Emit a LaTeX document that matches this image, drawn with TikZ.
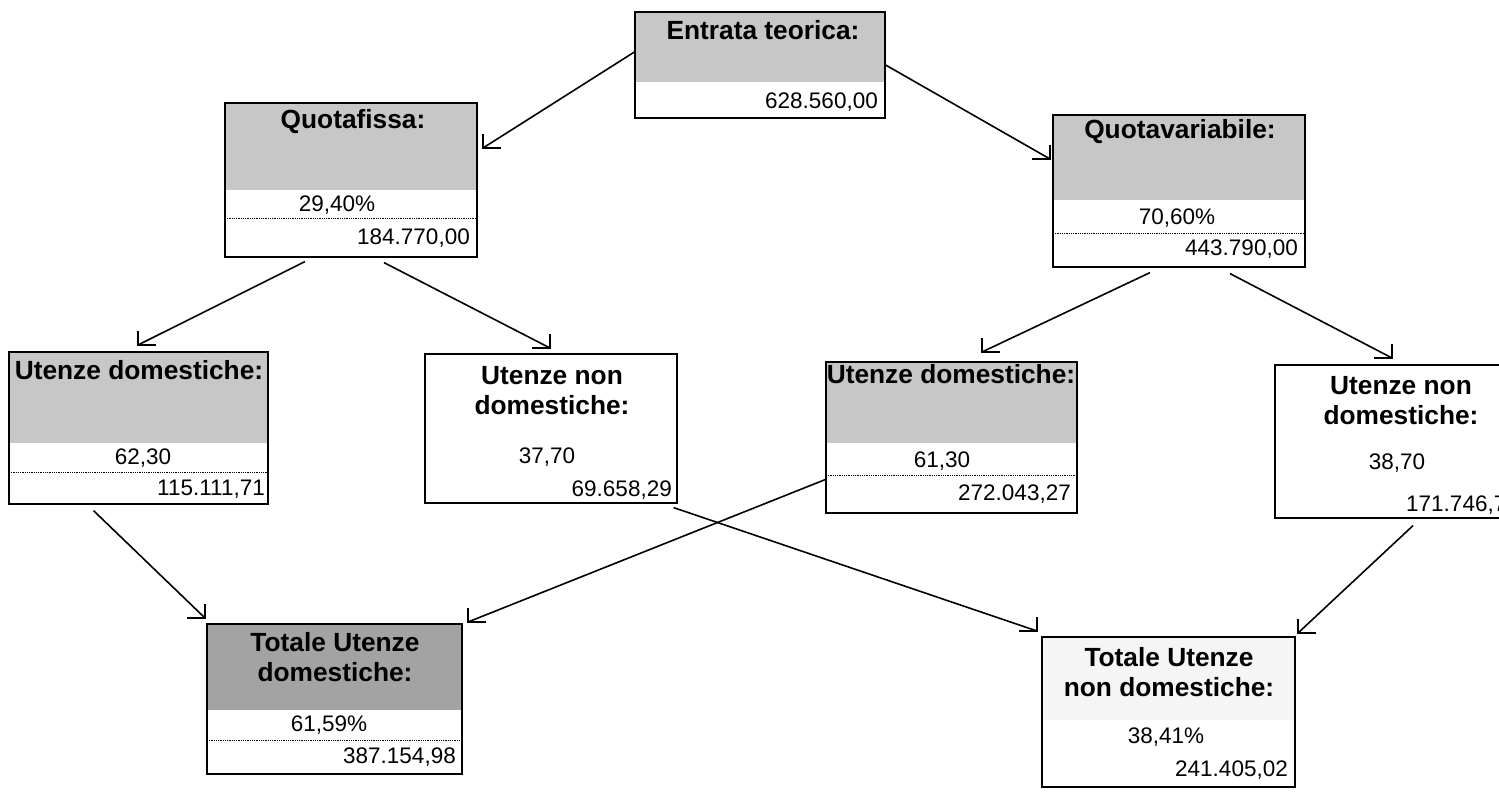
\documentclass[tikz,border=0pt]{standalone}
\usepackage{fontspec}
\setmainfont{Liberation Sans}
\usepackage{tikz}

% open corner tips at the end of the connectors
\newcommand{\barbsw}[1]{\draw[conn] ([yshift=14pt]#1) |- ([xshift=18pt]#1);}
\newcommand{\barbse}[1]{\draw[conn] ([yshift=14pt]#1) |- ([xshift=-18pt]#1);}

\begin{document}
\begin{tikzpicture}[x=1pt,y=-1pt,
    box/.style={draw=black, line width=1.2pt, inner sep=0pt},
    head/.style={fill=black!22},
    title/.style={font=\bfseries\fontsize{26.3}{30}\selectfont, inner sep=0pt, align=center},
    num/.style={font=\fontsize{22.5}{24}\selectfont, inner sep=0pt},
    rowline/.style={densely dotted, line width=0.8pt},
    conn/.style={line width=1.6pt}]
    \useasboundingbox (0,0) rectangle (1499,792);

    % grey heads
    \fill[head] (635,12) rectangle (885,82);
    \fill[head] (225,103) rectangle (477,190);
    \fill[head] (1053,115) rectangle (1305,200);
    \fill[head] (9,352) rectangle (268,443);
    \fill[head] (826,362) rectangle (1077,443);
    \fill[fill=black!36] (207,624) rectangle (462,710);
    \fill[fill=black!4] (1042,637) rectangle (1295,720);

    % boxes
    \node[box, minimum width=250pt, minimum height=106pt] (e) at (760,65) {};
    \node[box, minimum width=252pt, minimum height=154pt] (qf) at (351,180) {};
    \node[box, minimum width=252pt, minimum height=152pt] (qv) at (1179,191) {};
    \node[box, minimum width=259pt, minimum height=152pt] (ud1) at (138.5,428) {};
    \node[box, minimum width=252pt, minimum height=149pt] (un1) at (551,428.5) {};
    \node[box, minimum width=251pt, minimum height=151pt] (ud2) at (951.5,437.5) {};
    \node[box, minimum width=252pt, minimum height=153pt] (un2) at (1401,441.5) {};
    \node[box, minimum width=255pt, minimum height=150pt] (tud) at (334.5,699) {};
    \node[box, minimum width=253pt, minimum height=150pt] (tun) at (1168.5,712) {};

    % row lines
    \draw[rowline] (225,218) -- (477,218);
    \draw[rowline] (1053,233) -- (1305,233);
    \draw[rowline] (9,472) -- (268,472);
    \draw[rowline] (826,475) -- (1077,475);
    \draw[rowline] (207,740) -- (462,740);

    % texts
    \node[title] (e-t) at (763,30) {Entrata teorica:};
    \node[num, anchor=east] (e-v) at (878,102) {628.560,00};

    \node[title] (qf-t) at (353,122) {Quotafissa:};
    \node[num] (qf-p) at (337,205) {29,40\%};
    \node[num, anchor=east] (qf-v) at (470,238) {184.770,00};

    \node[title] (qv-t) at (1180,132) {Quotavariabile:};
    \node[num] (qv-p) at (1177,218) {70,60\%};
    \node[num, anchor=east] (qv-v) at (1298,249) {443.790,00};

    \node[title] (ud1-t) at (139,370) {Utenze domestiche:};
    \node[num] (ud1-p) at (143,458) {62,30};
    \node[num, anchor=east] (ud1-v) at (265,489) {115.111,71};

    \node[title] (un1-t) at (552,391) {Utenze non\\domestiche:};
    \node[num] (un1-p) at (547,457) {37,70};
    \node[num, anchor=east] (un1-v) at (672,490) {69.658,29};

    \node[title] (ud2-t) at (951,374) {Utenze domestiche:};
    \node[num] (ud2-p) at (942,461) {61,30};
    \node[num, anchor=east] (ud2-v) at (1071,494) {272.043,27};

    \node[title] (un2-t) at (1401,401) {Utenze non\\domestiche:};
    \node[num] (un2-p) at (1397,463) {38,70};
    \node[num, anchor=east] (un2-v) at (1519,505) {171.746,71};

    \node[title] (tud-t) at (335,657) {Totale Utenze\\domestiche:};
    \node[num] (tud-p) at (329,725) {61,59\%};
    \node[num, anchor=east] (tud-v) at (456,757) {387.154,98};

    \node[title] (tun-t) at (1169,672) {Totale Utenze\\non domestiche:};
    \node[num] (tun-p) at (1166,737) {38,41\%};
    \node[num, anchor=east] (tun-v) at (1288,770) {241.405,02};

    % arrow ends
    \coordinate (qf-in) at (483,148);
    \coordinate (qv-in) at (1050,159);
    \coordinate (ud1-in) at (138,345);
    \coordinate (un1-in) at (550,348);
    \coordinate (ud2-in) at (982,352);
    \coordinate (un2-in) at (1392,358);
    \coordinate (tud-inl) at (205,618);
    \coordinate (tud-inr) at (468,622);
    \coordinate (tun-inl) at (1037,631);
    \coordinate (tun-inr) at (1298,633);

    % connectors
    \draw[conn] ([yshift=13pt]e.west) -- (qf-in);
    \draw[conn] (e.east) -- (qv-in);
    \draw[conn] ([shift={(-46pt,-4pt)}]qf.south) -- (ud1-in);
    \draw[conn] ([shift={(33pt,-5pt)}]qf.south) -- (un1-in);
    \draw[conn] ([shift={(-29pt,-5pt)}]qv.south) -- (ud2-in);
    \draw[conn] ([shift={(51pt,-6pt)}]qv.south) -- (un2-in);
    \draw[conn] ([shift={(-45pt,-6pt)}]ud1.south) -- (tud-inl);
    \draw[conn] ([yshift=-42pt]ud2.west) -- (tud-inr);
    \draw[conn] ([shift={(-4pt,-4pt)}]un1.south east) -- (tun-inl);
    \draw[conn] ([shift={(12pt,-7pt)}]un2.south) -- (tun-inr);

    \barbsw{qf-in}
    \barbse{qv-in}
    \barbsw{ud1-in}
    \barbse{un1-in}
    \barbsw{ud2-in}
    \barbse{un2-in}
    \barbse{tud-inl}
    \barbsw{tud-inr}
    \barbse{tun-inl}
    \barbsw{tun-inr}
\end{tikzpicture}
\end{document}
